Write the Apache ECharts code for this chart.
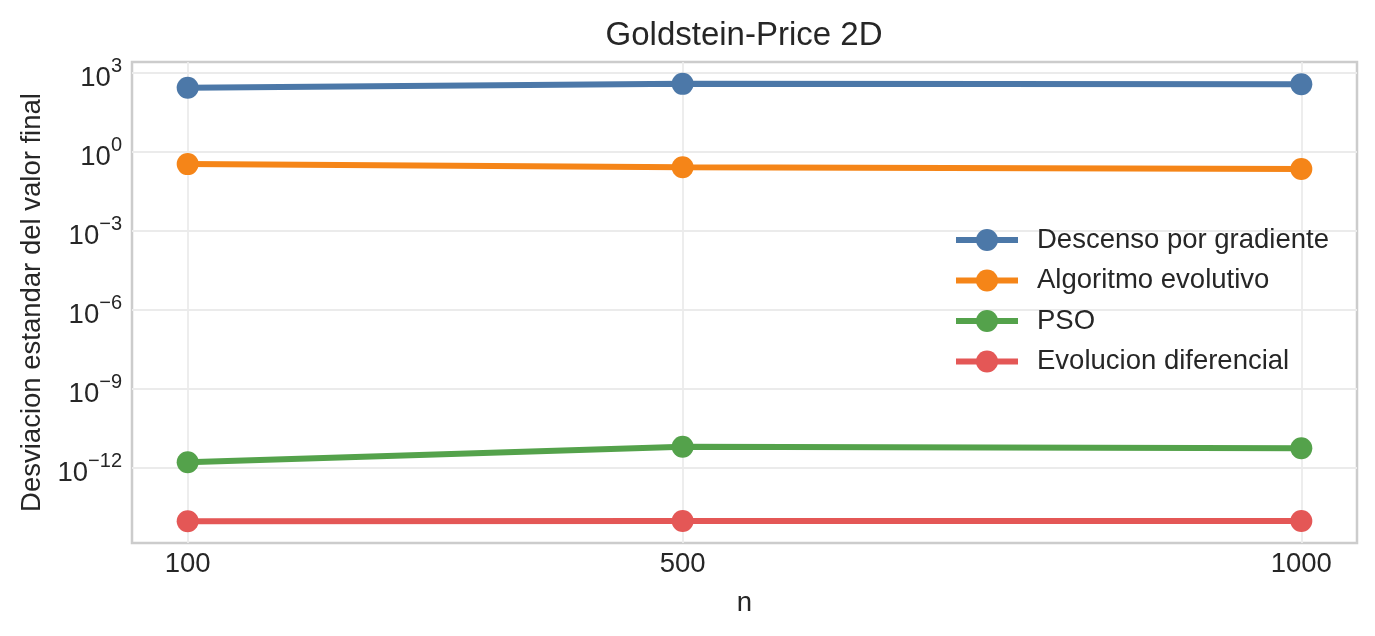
<!DOCTYPE html>
<html>
<head>
<meta charset="utf-8">
<script src="https://cdn.jsdelivr.net/npm/echarts@6/dist/echarts.min.js"></script>
<style>
html,body{margin:0;padding:0;background:#fff;}
#main{width:1375px;height:636px;}
</style>
</head>
<body>
<div id="main"></div>
<script>
// valores
var nValues = [100, 500, 1000];
var gradiente = [270, 380, 365];
var evolutivo = [0.34, 0.26, 0.22];
var pso = [1.6e-12, 6.3e-12, 5.5e-12];
var difEvol = [9.2e-15, 9.5e-15, 9.5e-15];
var yTicks = [1e-12, 1e-9, 1e-6, 1e-3, 1, 1e3];

var names = ['Descenso por gradiente', 'Algoritmo evolutivo', 'PSO', 'Evolucion diferencial'];
var colors = ['#4c78a8', '#f58518', '#54a24b', '#e45756'];
var txt = '#262626';
var font = 'Liberation Sans, Arial, sans-serif';

function pares(vals){
	var out = [];
	for (var i = 0; i < nValues.length; i++) out.push([nValues[i], vals[i]]);
	return out;
}

function mkSerie(i, vals){
	return {
		name: names[i],
		type: 'line',
		symbol: 'circle',
		symbolSize: 22,
		lineStyle: { width: 6, color: colors[i] },
		itemStyle: { color: colors[i] },
		emphasis: { disabled: true },
		data: pares(vals)
	};
}

var myChart = echarts.init(document.getElementById('main'));
var option = {
	animation: false,
	textStyle: { fontFamily: font },
	title: {
		text: 'Goldstein-Price 2D',
		left: 739,
		top: 14,
		textAlign: 'center',
		textStyle: { fontSize: 33, fontWeight: 'normal', color: txt, fontFamily: font }
	},
	legend: {
		orient: 'vertical',
		left: 948,
		top: 221,
		itemWidth: 62,
		itemHeight: 27.5,
		itemGap: 12.5,
		data: names,
		lineStyle: { width: 6 },
		textStyle: { fontSize: 27.5, color: txt, fontFamily: font, padding: [0, 0, 0, 14] }
	},
	grid: {
		left: 132,
		right: 18,
		top: 62,
		bottom: 93,
		show: true,
		borderColor: '#cccccc',
		borderWidth: 2.5,
		outerBoundsMode: 'none'
	},
	xAxis: {
		type: 'value',
		min: 55,
		max: 1045,
		name: 'n',
		nameLocation: 'middle',
		nameGap: 46,
		nameTextStyle: { fontSize: 27.5, color: txt, fontFamily: font },
		axisLine: { show: false },
		axisTick: { show: false, customValues: nValues },
		axisLabel: {
			customValues: nValues,
			fontSize: 27.5, color: txt, margin: 7, fontFamily: font,
			formatter: function(v){ return String(v); }
		},
		splitLine: { show: true, lineStyle: { color: '#ebebeb', width: 1.8 } }
	},
	yAxis: {
		type: 'log',
		logBase: 10,
		min: Math.pow(10, -14.86),
		max: Math.pow(10, 3.41),
		name: 'Desviacion estandar del valor final',
		nameLocation: 'middle',
		nameGap: 85,
		nameTextStyle: { fontSize: 27.5, color: txt, fontFamily: font },
		axisLine: { show: false },
		axisTick: { show: false, customValues: yTicks },
		axisLabel: {
			customValues: yTicks,
			margin: 10,
			formatter: function(v){
				var e = Math.round(Math.log10(v));
				return '{b|10}{s|' + (e < 0 ? '\u2212' + (-e) : e) + '}';
			},
			rich: {
				b: { fontSize: 27.5, lineHeight: 28, padding: [12, 0, 0, 0], verticalAlign: 'middle', color: txt, fontFamily: font },
				s: { fontSize: 20, lineHeight: 20, padding: [0, 0, 12, 0], verticalAlign: 'middle', color: txt, fontFamily: font }
			}
		},
		splitLine: { show: true, lineStyle: { color: '#ebebeb', width: 1.8 } }
	},
	series: [
		mkSerie(0, gradiente),
		mkSerie(1, evolutivo),
		mkSerie(2, pso),
		mkSerie(3, difEvol)
	]
};
myChart.setOption(option);
window.addEventListener('resize', function(){ myChart.resize(); });
</script>
</body>
</html>
